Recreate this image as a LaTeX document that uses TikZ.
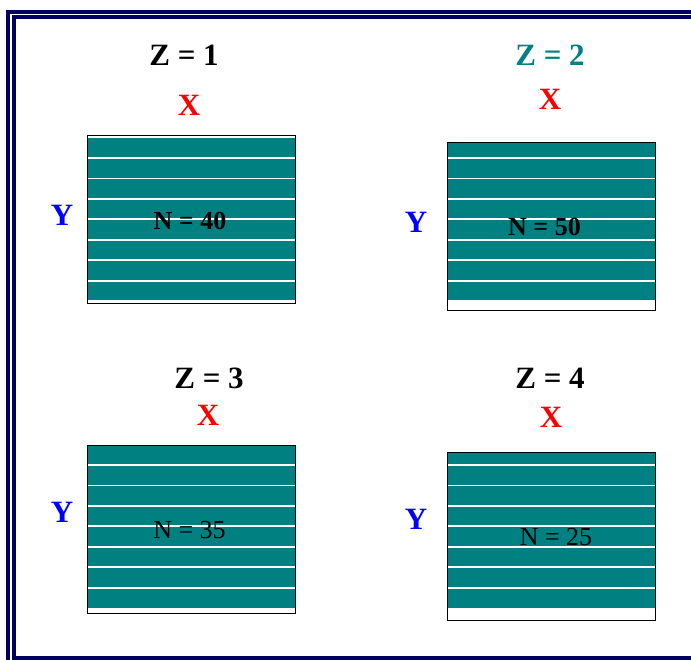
\documentclass[tikz,border=0pt]{standalone}
\usepackage{fontspec}
\setmainfont{Liberation Serif}
\definecolor{panelteal}{RGB}{0,128,128}
\definecolor{framenavy}{RGB}{0,0,96}

\begin{document}
\begin{tikzpicture}[x=1pt,y=-1pt,line width=.8pt,
  title/.style={font=\fontsize{31}{31}\selectfont\bfseries},
  axisx/.style={title,text=red},
  axisy/.style={title,text=blue},
  count/.style={font=\fontsize{26}{26}\selectfont}]
\clip (0,0) rectangle (691,660);
\draw[framenavy,line width=4.5] (8,12) rectangle (720,680);
\draw[framenavy,line width=4.5] (14,17) rectangle (710,658.5);
\foreach \l/\t/\ft/\fb/\b/\s in {87/135/138/300/303/158,447/142/142/300/310/158,87/445/445/608/613/465,447/452/452/608/620/465}{
  \fill[panelteal] (\l,\ft) rectangle ({\l+208.5},\fb);
  \foreach \k in {0,...,6} \draw[white,line width=1.8] (\l,{\s+20.45*\k})--({\l+208.5},{\s+20.45*\k});
  \draw (\l,\t) rectangle ({\l+208.5},\b);}
\node[title] (z1) at (184,55) {Z = 1};\node[axisx] (x1) at (189,105) {X};
\node[axisy] (y1) at (62,215) {Y};\node[count,font=\fontsize{26}{26}\selectfont\bfseries] (n1) at (190,221) {N = 40};
\node[title,text=panelteal] (z2) at (550,55) {Z = 2};\node[axisx] (x2) at (550,99) {X};
\node[axisy] (y2) at (416,222) {Y};\node[count,font=\fontsize{26}{26}\selectfont\bfseries] (n2) at (544.5,227) {N = 50};
\node[title] (z3) at (209,378) {Z = 3};\node[axisx] (x3) at (208,415) {X};
\node[axisy] (y3) at (62,512) {Y};\node[count] (n3) at (189.5,530) {N = 35};
\node[title] (z4) at (550,378) {Z = 4};\node[axisx] (x4) at (551,417) {X};
\node[axisy] (y4) at (416,519) {Y};\node[count] (n4) at (556,537.5) {N = 25};
\end{tikzpicture}
\end{document}
